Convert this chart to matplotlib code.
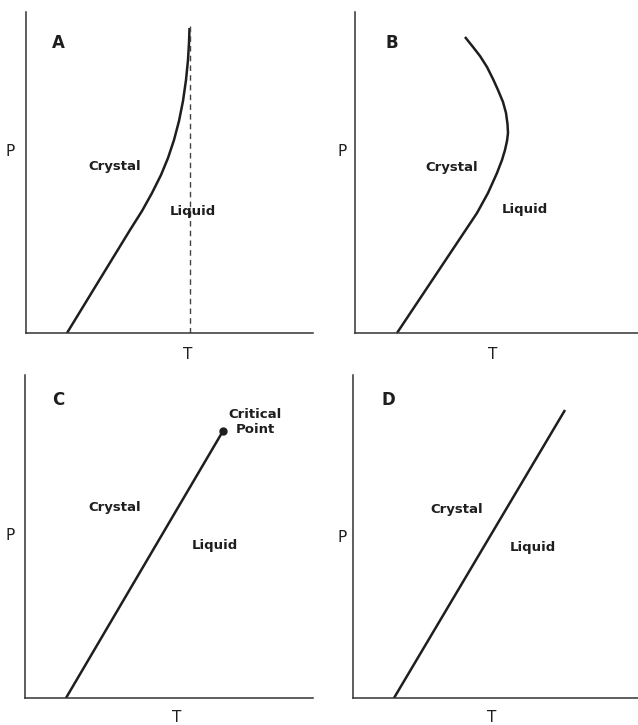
import matplotlib
matplotlib.use("Agg")
import matplotlib.pyplot as plt

# figure is 638 x 725 px; panel boxes in pixels (left, right, top, bottom)
FIG_W, FIG_H = 638, 725
BOXES = {
    "A": (26, 313, 12, 333),
    "B": (355, 638, 12, 333),
    "C": (25, 313, 375, 698),
    "D": (353, 638, 375, 698),
}

# melting curves, T and P in arbitrary units (10 px per unit)
T_a = [4.1, 7.4, 10.4, 11.6, 12.6, 13.5, 14.2, 14.8, 15.3, 15.7, 16.0, 16.2, 16.3, 16.35]
P_a = [0.0, 5.4, 10.3, 12.2, 14.0, 15.8, 17.5, 19.3, 21.2, 23.2, 25.3, 27.3, 29.0, 30.5]
T_a_limit = 16.4
P_a_limit = 30.9

T_b = [4.2, 6.2, 8.2, 10.2, 12.2, 13.3, 14.2, 14.7, 15.0, 15.2, 15.3, 15.25,
       15.1, 14.8, 14.3, 13.8, 13.2, 12.5, 11.8, 11.0]
P_b = [0.0, 3.0, 6.0, 9.0, 12.0, 14.0, 16.0, 17.3, 18.3, 19.2, 20.0, 20.9,
       22.0, 23.1, 24.3, 25.4, 26.6, 27.7, 28.6, 29.6]

T_c = [4.1, 19.8]
P_c = [0.0, 26.7]

T_d = [4.1, 21.2]
P_d = [0.0, 28.8]

# label positions per panel: letter, P, T, Crystal, Liquid
LABELS = {
    "A": dict(letter=(3.2, 29.0), P=(-1.6, 18.1), T=(16.2, -2.2), crystal=(8.9, 16.6), liquid=(16.7, 12.1)),
    "B": dict(letter=(3.7, 29.0), P=(-1.3, 18.1), T=(13.8, -2.2), crystal=(9.7, 16.5), liquid=(17.0, 12.3)),
    "C": dict(letter=(3.3, 29.8), P=(-1.5, 16.3), T=(15.2, -2.0), crystal=(9.0, 19.0), liquid=(19.0, 15.3)),
    "D": dict(letter=(3.5, 29.8), P=(-1.1, 16.0), T=(13.9, -2.0), crystal=(10.4, 18.8), liquid=(18.0, 15.1)),
}
CRIT_LABEL = (23.0, 27.6)

INK = "#1e1e1e"


def make_axes(fig, box):
    left, right, top, bottom = box
    ax = fig.add_axes([left / FIG_W, 1 - bottom / FIG_H,
                       (right - left) / FIG_W, (bottom - top) / FIG_H])
    ax.set_xlim(0, (right - left) / 10)
    ax.set_ylim(0, (bottom - top) / 10)
    for side in ("top", "right"):
        ax.spines[side].set_visible(False)
    for side in ("left", "bottom"):
        ax.spines[side].set_linewidth(1.1)
        ax.spines[side].set_color("#333333")
    ax.set_xticks([])
    ax.set_yticks([])
    ax.patch.set_alpha(0)
    return ax


def put_labels(ax, key):
    lab = LABELS[key]
    ax.text(*lab["letter"], key, fontsize=12, fontweight="bold", color=INK,
            ha="center", va="center")
    ax.text(*lab["P"], "P", fontsize=11, color=INK, ha="center", va="center",
            clip_on=False)
    ax.text(*lab["T"], "T", fontsize=11, color=INK, ha="center", va="center",
            clip_on=False)
    ax.text(*lab["crystal"], "Crystal", fontsize=9.5, fontweight="bold",
            color=INK, ha="center", va="center")
    ax.text(*lab["liquid"], "Liquid", fontsize=9.5, fontweight="bold",
            color=INK, ha="center", va="center")


fig = plt.figure(figsize=(FIG_W / 100, FIG_H / 100), dpi=100)

ax = make_axes(fig, BOXES["A"])
ax.plot(T_a, P_a, color=INK, lw=1.8, solid_capstyle="butt", solid_joinstyle="round")
ax.plot([T_a_limit, T_a_limit], [0, P_a_limit], color="#444444", lw=1.0,
        dashes=(4, 3))
put_labels(ax, "A")

ax = make_axes(fig, BOXES["B"])
ax.plot(T_b, P_b, color=INK, lw=1.8, solid_capstyle="butt", solid_joinstyle="round")
put_labels(ax, "B")

ax = make_axes(fig, BOXES["C"])
ax.plot(T_c, P_c, color=INK, lw=1.8, solid_capstyle="butt")
ax.plot(T_c[-1], P_c[-1], "o", color=INK, ms=5)
ax.text(*CRIT_LABEL, "Critical\nPoint", fontsize=9.5, fontweight="bold",
        color=INK, ha="center", va="center", linespacing=1.2)
put_labels(ax, "C")

ax = make_axes(fig, BOXES["D"])
ax.plot(T_d, P_d, color=INK, lw=1.8, solid_capstyle="butt")
put_labels(ax, "D")

fig.savefig("out.png", dpi=100, facecolor="white")
